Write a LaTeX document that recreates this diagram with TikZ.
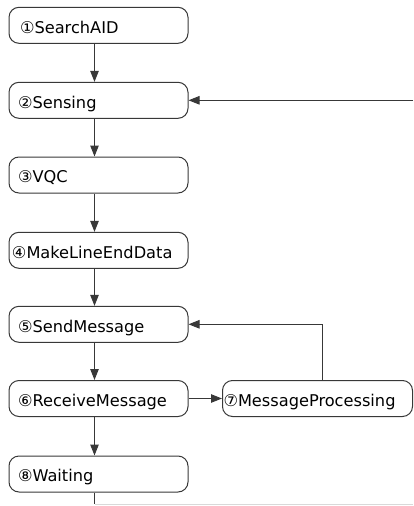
\documentclass[tikz,border=0pt]{standalone}
\usepackage{fontspec}
\setmainfont{DejaVu Sans}
\usetikzlibrary{arrows.meta,positioning}
\definecolor{ink}{HTML}{383838}
\tikzset{
  stepbox/.style={draw=ink, line width=1pt, rounded corners=10pt,
    minimum width=179pt, minimum height=36pt, text width=179pt-2*#1,
    inner xsep=#1, inner ysep=0pt, align=left, anchor=west,
    text height=17pt, text depth=1.5pt,
    font=\fontsize{16.2}{17}\selectfont},
  stepbox/.default=9pt,
  flow/.style={draw=ink, line width=1pt, -{Triangle[length=11pt,width=8.5pt]}},
  plain/.style={draw=ink, line width=1pt},
}
\begin{document}
\begin{tikzpicture}[x=1pt,y=-1pt]
  \useasboundingbox (0,0) rectangle (413,506);
  \node[stepbox=11pt] (b1) at (8.5,25.3) {①SearchAID};
  \node[stepbox] (b2) at (8.5,100.3) {②Sensing};
  \node[stepbox] (b3) at (8.5,175) {③VQC};
  \node[stepbox=3pt] (b4) at (8.5,250.3) {④MakeLineEndData};
  \node[stepbox] (b5) at (8.5,324.3) {⑤SendMessage};
  \node[stepbox] (b6) at (8.5,398.5) {⑥ReceiveMessage};
  \node[stepbox=1pt, minimum width=190pt, text width=188pt] (b7) at (222,398.5) {⑦MessageProcessing};
  \node[stepbox] (b8) at (8.5,474) {⑧Waiting};

  % column of the main flow and the return paths
  \coordinate (xline) at (94.5,0);
  \coordinate (xret) at (322,0);
  \coordinate (rightedge) at (413,100.3);
  \coordinate (loopturn) at (94.5,504);
  \coordinate (loopend) at (413,504);

  \draw[flow] (b1.south -| xline) -- (b2.north -| xline);
  \draw[flow] (b2.south -| xline) -- (b3.north -| xline);
  \draw[flow] (b3.south -| xline) -- (b4.north -| xline);
  \draw[flow] (b4.south -| xline) -- (b5.north -| xline);
  \draw[flow] (b5.south -| xline) -- (b6.north -| xline);
  \draw[flow] (b6.south -| xline) -- (b8.north -| xline);
  \draw[flow] (b6.east) -- (b7.west);
  \draw[flow] (b7.north -| xret) |- (b5.east);
  \draw[flow] (rightedge) -- (b2.east);
  \draw[plain] (b8.south -| xline) -- (loopturn);
  \draw[draw=black!15, line width=1pt] (loopturn) -- (loopend);
\end{tikzpicture}
\end{document}
